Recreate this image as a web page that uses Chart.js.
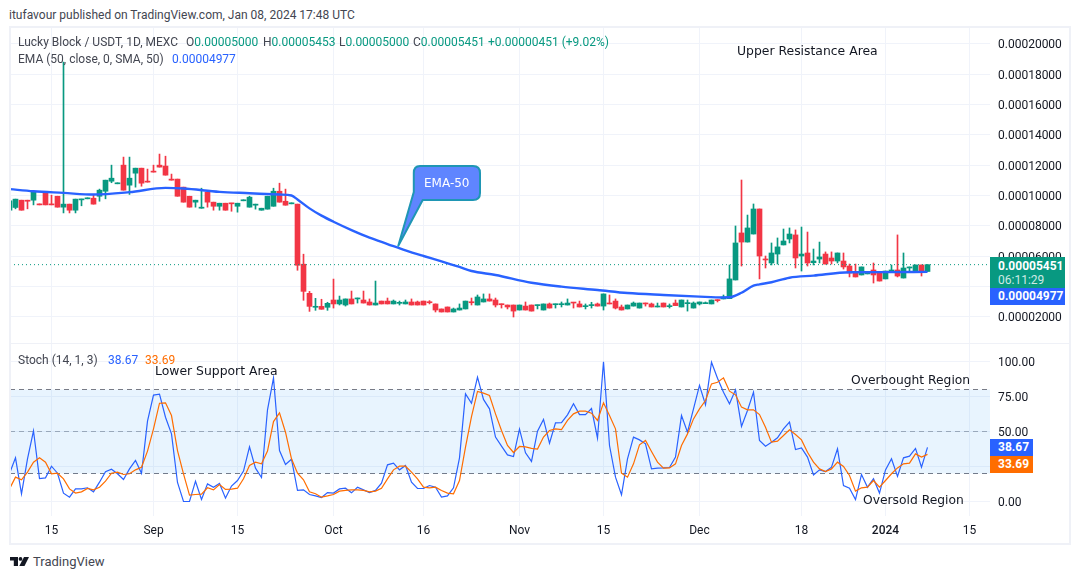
<!DOCTYPE html>
<html><head><meta charset="utf-8">
<script src="https://cdn.jsdelivr.net/npm/chart.js@4/dist/chart.umd.min.js"></script>
<style>
html,body{margin:0;padding:0;background:#fff;width:1080px;height:579px;overflow:hidden}
body{position:relative;font-family:Roboto,sans-serif;color:#131722}
canvas{position:absolute;display:block}
.t{position:absolute;white-space:pre;line-height:1}
.txt{font-family:Roboto,sans-serif;font-size:12px;color:#434651}
.g{color:#089981}.b{color:#2962ff}.o{color:#ff6d00}
.tag{position:absolute;left:990px;color:#fff;font:bold 12px Roboto,sans-serif;padding-left:8px;box-sizing:border-box}
.ann{font-family:"DejaVu Sans",sans-serif;font-size:12.4px;color:#131722}
.fr{position:absolute;background:#eff1f7}
</style></head><body>
<canvas id="top" width="1060" height="315" style="left:10px;top:28px"></canvas>
<canvas id="bot" width="1060" height="199" style="left:10px;top:344px"></canvas>
<div class="fr" style="left:9px;top:26px;width:1062px;height:2px"></div>
<div class="fr" style="left:9px;top:26px;width:2px;height:519px"></div>
<div class="fr" style="left:1069px;top:26px;width:2px;height:519px"></div>
<div class="fr" style="left:9px;top:543px;width:1062px;height:2px"></div>
<div class="fr" style="left:11px;top:343px;width:1058px;height:1px"></div>

<div class="t txt" style="left:9px;top:9px">itufavour published on TradingView.com, Jan 08, 2024 17:48 UTC</div>
<div class="t txt" style="left:18px;top:36px">Lucky Block / USDT, 1D, MEXC</div>
<div class="t txt" style="left:186px;top:36px">O<span class="g">0.00005000</span></div>
<div class="t txt" style="left:263px;top:36px">H<span class="g">0.00005453</span></div>
<div class="t txt" style="left:339px;top:36px">L<span class="g">0.00005000</span></div>
<div class="t txt" style="left:413px;top:36px">C<span class="g">0.00005451</span></div>
<div class="t txt g" style="left:488px;top:36px">+0.00000451 (+9.02%)</div>
<div class="t txt" style="left:18px;top:53px">EMA (50, close, 0, SMA, 50)</div>
<div class="t txt b" style="left:172px;top:53px">0.00004977</div>
<div class="t txt" style="left:18px;top:354px">Stoch (14, 1, 3)</div>
<div class="t txt b" style="left:108px;top:354px">38.67</div>
<div class="t txt o" style="left:145px;top:354px">33.69</div>

<div class="t ann" style="left:737px;top:45px">Upper Resistance Area</div>
<div class="t ann" style="left:155px;top:365px">Lower Support Area</div>
<div class="t ann" style="left:851px;top:374px;font-size:12.3px">Overbought Region</div>
<div class="t ann" style="left:863px;top:494px;font-size:12.3px">Oversold Region</div>

<svg style="position:absolute;left:385px;top:155px" width="110" height="100" viewBox="0 0 110 100">
<path d="M35 11 H88 Q95 11 95 18 V38 Q95 45 88 45 H37.700 L13.300 90.700 L28.800 37 V18 Q28.800 11 35 11 Z" fill="#5f85ff" stroke="#1f96b4" stroke-width="2" stroke-linejoin="round"/>
</svg>
<div class="t" style="left:424px;top:176px;font:12px 'DejaVu Sans',sans-serif;color:#fff">EMA-50</div>

<div class="tag" style="top:257px;height:31px;width:75px;background:#089981;padding-top:2px;line-height:14px">0.00005451<br><span style="font-weight:normal;color:#cfeae5">06:11:29</span></div>
<div class="tag" style="top:288px;height:17px;width:75px;background:#2962ff;line-height:17px">0.00004977</div>
<div class="tag" style="top:439px;height:17px;width:43px;background:#2962ff;line-height:17px">38.67</div>
<div class="tag" style="top:456px;height:17px;width:43px;background:#ff6d00;line-height:17px">33.69</div>

<svg style="position:absolute;left:10px;top:557px" width="19" height="9" viewBox="0 0 19 9">
<path d="M0 0H8V9H3.800V3.600H0Z" fill="#131722"/><circle cx="10.500" cy="1.900" r="1.900" fill="#131722"/><path d="M14 0H19L14.500 9H9.300Z" fill="#131722"/>
</svg>
<div class="t" style="left:33px;top:554px;font:13px Roboto,sans-serif;color:#434651">TradingView</div>

<script>
// prices are read in units of 0.00001 USDT
const days=[];for(let i=-7;i<=146;i++)days.push(i);
const opens=[9.04,9.22,9.70,9.70,9.70,9.44,10.25,9.44,9.96,9.24,
9.44,9.04,9.72,9.79,9.83,9.96,10.29,10.95,10.78,12.01,
10.69,11.48,11.81,10.95,11.61,12.01,11.95,11.09,11.09,10.56,
9.96,9.57,9.17,10.23,9.57,9.30,9.50,9.50,9.30,9.66,
9.24,9.37,9.04,9.11,9.30,10.29,9.63,9.46,9.44,5.48,
3.56,2.64,2.70,2.64,3.12,2.86,2.79,3.19,3.19,3.12,
2.99,2.79,3.05,3.05,2.86,2.90,2.86,2.99,2.99,3.05,
2.99,2.86,2.53,2.66,2.33,2.46,2.53,2.99,2.79,2.99,
3.19,3.12,2.86,2.79,2.79,2.46,2.72,2.79,2.75,2.46,
2.86,2.81,2.81,2.79,2.97,2.86,2.68,2.75,2.86,2.72,
2.92,3.05,2.66,2.53,2.72,2.59,2.92,2.86,2.66,2.92,
2.68,2.92,2.66,2.88,2.59,2.86,2.88,2.86,3.14,3.19,
3.21,4.44,7.54,6.94,7.47,9.12,5.82,5.56,6.15,6.75,
7.14,7.41,6.02,6.22,5.58,5.82,6.15,5.89,5.69,5.69,
5.36,4.97,4.77,4.84,5.10,4.90,4.51,5.03,5.10,4.57,
5.23,4.97,5.43,5.00];
const highs=[9.66,9.77,9.70,9.70,10.27,9.44,10.25,10.03,9.96,18.80,
9.44,9.77,9.77,9.83,10.03,10.43,11.02,12.01,10.82,12.54,
12.54,11.81,11.81,11.75,12.01,12.74,12.60,11.42,11.09,10.56,
9.96,9.70,10.49,10.23,9.57,9.50,9.50,9.50,9.50,9.70,
9.96,9.44,9.17,9.96,10.49,10.82,10.43,9.52,9.44,6.14,
3.69,3.23,3.17,2.97,4.50,3.38,3.19,3.71,3.25,3.71,
3.19,4.37,3.05,3.25,3.12,3.05,3.12,3.19,3.05,3.05,
3.08,2.86,2.53,2.66,2.59,2.86,3.05,3.25,3.45,3.52,
3.52,3.25,2.86,2.79,2.79,2.79,2.99,2.79,2.79,2.86,
2.92,2.86,2.99,3.19,2.97,3.05,2.86,2.97,2.92,3.52,
3.45,3.19,2.79,2.79,2.99,2.92,2.92,2.92,2.92,2.92,
2.86,3.12,3.12,3.12,2.99,2.99,2.99,3.12,3.14,3.45,
5.43,8.00,11.03,8.72,9.45,9.12,6.02,6.88,7.21,7.80,
7.87,7.74,7.93,7.60,6.48,6.94,6.29,6.29,6.22,6.22,
5.49,5.49,5.30,4.97,5.56,4.90,5.03,5.43,7.41,6.22,
5.30,5.43,5.43,5.453];
const lows=[9.04,9.13,9.04,9.13,9.39,9.39,9.39,9.39,9.24,8.86,
8.86,8.86,9.33,9.79,9.44,9.63,9.79,10.85,10.78,10.36,
10.08,10.56,10.62,10.89,11.55,11.88,11.35,11.02,9.96,9.57,
9.24,9.24,9.17,9.24,9.04,9.04,9.04,8.97,8.91,9.66,
9.24,9.11,9.04,9.11,9.30,9.57,9.37,9.46,5.08,3.10,
2.37,2.44,2.51,2.44,2.59,2.79,2.72,2.86,2.92,2.92,
2.79,2.79,2.86,2.86,2.86,2.79,2.86,2.79,2.79,2.79,
2.86,2.33,2.33,2.33,2.33,2.46,2.53,2.79,2.79,2.99,
3.05,2.66,2.59,2.53,2.00,2.46,2.46,2.39,2.53,2.46,
2.59,2.59,2.66,2.79,2.59,2.66,2.53,2.59,2.72,2.46,
2.86,2.53,2.46,2.53,2.72,2.59,2.72,2.66,2.66,2.66,
2.59,2.75,2.66,2.39,2.59,2.79,2.88,2.86,2.99,3.19,
3.21,4.44,5.36,6.94,7.47,4.51,5.23,5.43,5.49,6.75,
6.88,5.23,5.03,5.36,5.43,5.56,5.49,5.49,5.56,5.16,
4.64,4.64,4.77,4.84,4.24,4.37,4.51,5.03,4.64,4.57,
4.97,4.97,4.70,5.00];
const closes=[9.66,9.77,9.04,9.63,10.27,9.39,9.39,9.39,9.24,9.44,
9.04,9.77,9.77,9.83,9.44,10.36,11.02,11.15,10.82,10.36,
11.15,11.81,10.82,10.89,11.55,11.88,11.35,11.02,9.96,9.57,
9.24,9.70,9.24,9.57,9.30,9.50,9.04,9.46,9.50,9.70,
9.90,9.44,9.17,9.96,10.29,9.57,9.37,9.52,5.41,3.69,
2.70,2.70,2.51,2.90,2.86,3.12,3.19,2.86,3.25,2.92,
2.79,2.92,2.86,2.86,3.05,2.94,2.99,2.79,2.79,2.79,
2.94,2.46,2.33,2.33,2.53,2.59,3.05,2.94,3.32,3.19,
3.05,2.79,2.81,2.66,2.39,2.79,2.46,2.39,2.79,2.86,
2.59,2.86,2.86,2.92,2.92,2.66,2.72,2.79,2.72,3.52,
2.86,2.59,2.46,2.79,2.92,2.92,2.86,2.66,2.70,2.66,
2.72,2.75,3.12,2.92,2.92,2.99,2.92,3.12,3.08,3.32,
4.51,6.88,6.94,7.87,9.12,6.02,5.76,6.22,6.62,7.01,
7.47,5.89,6.15,5.56,5.69,5.96,5.49,5.69,6.22,5.30,
4.90,4.64,5.30,4.97,4.77,4.37,5.03,5.10,4.70,5.23,
5.30,5.43,4.97,5.451];
const emaDays=[-7,-3,2,7,13,19,22,28,33,38,40,41,43,45,47,50,53,56,59,62,65,68,70,74,80,85,91,96,102,108,112,113,115,117,118,120,123,127,133,139,146];
const emaValues=[10.43,10.29,10.18,10.07,10.23,10.51,10.47,10.25,10.16,10.07,10.01,9.75,9.16,8.68,8.28,7.73,7.23,6.81,6.39,6.02,5.67,5.30,5.03,4.77,4.26,4.00,3.78,3.58,3.45,3.34,3.29,3.30,3.60,4.07,4.15,4.29,4.59,4.73,4.95,4.96,4.977];
const stochK=[20,31.2,5.5,30.5,50.5,16.4,16.9,25.2,20.2,5.9,3.1,9,9,9.8,6.9,13.8,21.2,23.1,19.8,15.7,23.3,29.3,20.2,57.4,76,76.7,60.2,48.3,13.6,0,0,14.5,1.4,12.6,10.2,12.9,2.4,11,15,21.7,39,23.8,17.1,65.5,88.3,36.4,26.4,30.2,7.9,8.3,5,4,2.8,6.4,6,9,9.5,6.2,10.2,8.3,6.4,7.9,13.1,26.2,27.4,22.6,25.7,13.8,9.3,9.3,11.4,10.2,3.1,4,9.8,31.2,76.9,70.2,88.8,72.9,66.2,46,39.5,33.3,32.1,51.7,34.8,28.6,50.2,58.6,41.7,56.2,56.4,61.9,69.8,62.1,62.1,66.4,45.2,99.8,40,17.4,4.8,30.5,46,44,41.2,23.3,23.8,24,24.3,31.7,61.4,49.5,66.2,82.9,69.1,99.5,88,78.1,69.8,79.8,53.6,65,78.1,43.6,39.5,42.4,45.5,51.9,56.7,37.1,38.3,31.7,19,22.6,21.4,24.5,37.6,11.4,9.5,1.4,19.3,10.2,16.2,6,22.6,30.5,17.9,31.2,32.4,37.9,24.5,38.67];
const stochD=[9,17.4,15.5,21,28.1,31.2,28.1,19.8,20.2,16.2,9,6,6.9,9.3,8.3,10.2,14.5,20.2,21,19.3,19.8,22.6,24.5,36,51.9,70.2,70.5,61.4,36.4,19.8,4.5,5,5.2,9.8,8.3,12.1,8.6,8.8,9.5,16.2,25.7,28.1,26.9,36,57.1,63.3,49.5,30.5,20.2,15.5,6.9,5.5,3.1,4,5,7.4,7.9,8.3,8.3,7.9,6.9,7.4,9.5,16.2,22.6,25.2,25.2,21,16.2,10.2,9.8,10.2,7.9,6,5.5,15,38.8,60.7,78.6,77.4,75.7,62.6,50.7,40,35,39.3,39,37.9,37.4,46,50.7,51.9,51.4,57.9,62.6,64.5,64.5,63.1,57.9,70.5,61.4,51.9,20.2,17.4,26.9,40.5,43.6,35.7,28.1,23.8,24,26.9,40,48.3,59,66.2,72.1,84,85.2,88.3,78.8,76.2,67.4,65.5,65.5,62.1,53.1,42.4,43.1,47.1,51.2,47.9,44,35.2,28.1,23.3,21.4,23.3,28.1,25,18.6,7.4,9.8,10.2,15,10.2,15,19.8,24,26.9,27.4,34,31.7,33.69];
const priceTicks=[2,4,6,8,10,12,14,16,18,20];
const stochTicks=[0,25,50,75,100];
const dateTicks=[0,17,31,47,62,78,92,108,125,139,153];
const dateLabels=['15','Sep','15','Oct','16','Nov','15','Dec','18','2024','15'];
const UP='#089981',DOWN='#f23645',GRID='#f0f3fa',AXIS='#131722';
const UNIT=1e-5;
const font='Roboto,sans-serif';
const xMin=-6.9167,xMax=156.4167;
const pMin=0.286*UNIT,pMax=21.05*UNIT;
const sMin=-10.357,sMax=112.5;
const noPad=s=>{s.paddingTop=0;s.paddingBottom=0;s.paddingLeft=0;s.paddingRight=0;};

const colors=opens.map((o,i)=>closes[i]>=o?UP:DOWN);
const xAxis=(showLabels)=>({
  type:'linear',min:xMin,max:xMax,offset:false,
  grid:{color:GRID,drawTicks:false,offset:false},border:{display:false},
  afterBuildTicks:s=>{s.ticks=dateTicks.map(v=>({value:v}));},
  afterFit:s=>{s.height=showLabels?27:0;noPad(s);},
  ticks:{display:showLabels,autoSkip:false,maxRotation:0,padding:8,color:AXIS,
    font:c=>({family:font,size:12,weight:c.tick&&c.tick.value===139?'500':'normal'}),
    callback:v=>dateLabels[dateTicks.indexOf(v)]}
});
const yAxis=(min,max,ticks,fmt)=>({
  position:'right',min,max,
  grid:{color:GRID,drawTicks:false},border:{display:false},
  afterBuildTicks:s=>{s.ticks=ticks.map(v=>({value:v}));},
  afterFit:s=>{s.width=80;noPad(s);},
  ticks:{padding:8,labelOffset:1.5,color:AXIS,font:{family:font,size:12},autoSkip:false,callback:fmt}
});
const base={responsive:false,animation:false,devicePixelRatio:1,
  plugins:{legend:{display:false},tooltip:{enabled:false}},
  layout:{padding:0,autoPadding:false},events:[]};

new Chart(document.getElementById('top'),{
  type:'bar',
  data:{datasets:[
    {type:'bar',label:'wick',grouped:false,order:4,maxBarThickness:1,barPercentage:1,categoryPercentage:1,minBarLength:1,
     backgroundColor:colors,data:days.map((d,i)=>({x:d,y:[lows[i]*UNIT,highs[i]*UNIT]}))},
    {type:'bar',label:'body',grouped:false,order:3,maxBarThickness:5,barPercentage:1,categoryPercentage:1,minBarLength:1,
     backgroundColor:colors,data:days.map((d,i)=>({x:d,y:[opens[i]*UNIT,closes[i]*UNIT]}))},
    {type:'line',label:'EMA 50',order:1,borderColor:'#2962ff',borderWidth:2.4,pointRadius:0,cubicInterpolationMode:'monotone',
     data:emaDays.map((d,i)=>({x:d,y:emaValues[i]*UNIT}))},
    {type:'line',label:'last',order:2,borderColor:UP,borderWidth:1,borderDash:[1,3],pointRadius:0,
     data:[{x:xMin,y:closes[closes.length-1]*UNIT},{x:xMax,y:closes[closes.length-1]*UNIT}]}
  ]},
  options:{...base,scales:{x:xAxis(false),y:yAxis(pMin,pMax,priceTicks.map(v=>v*UNIT),v=>v.toFixed(8))}}
});

new Chart(document.getElementById('bot'),{
  type:'line',
  data:{datasets:[
    {label:'top',order:5,data:[{x:xMin,y:80},{x:xMax,y:80}],borderColor:'#787b86',borderWidth:1,borderDash:[5,4],pointRadius:0,
     fill:'+2',backgroundColor:'rgba(33,150,243,0.1)'},
    {label:'mid',order:5,data:[{x:xMin,y:50},{x:xMax,y:50}],borderColor:'rgba(120,123,134,0.6)',borderWidth:1,borderDash:[5,4],pointRadius:0},
    {label:'bottom',order:5,data:[{x:xMin,y:20},{x:xMax,y:20}],borderColor:'#787b86',borderWidth:1,borderDash:[5,4],pointRadius:0},
    {label:'%K',order:2,data:days.map((d,i)=>({x:d,y:stochK[i]})),borderColor:'#2962ff',borderWidth:1.2,pointRadius:0,tension:0},
    {label:'%D',order:1,data:days.map((d,i)=>({x:d,y:stochD[i]})),borderColor:'#ff6d00',borderWidth:1.2,pointRadius:0,tension:0}
  ]},
  options:{...base,scales:{x:xAxis(true),y:yAxis(sMin,sMax,stochTicks,v=>v.toFixed(2))}}
});
</script>
</body></html>
